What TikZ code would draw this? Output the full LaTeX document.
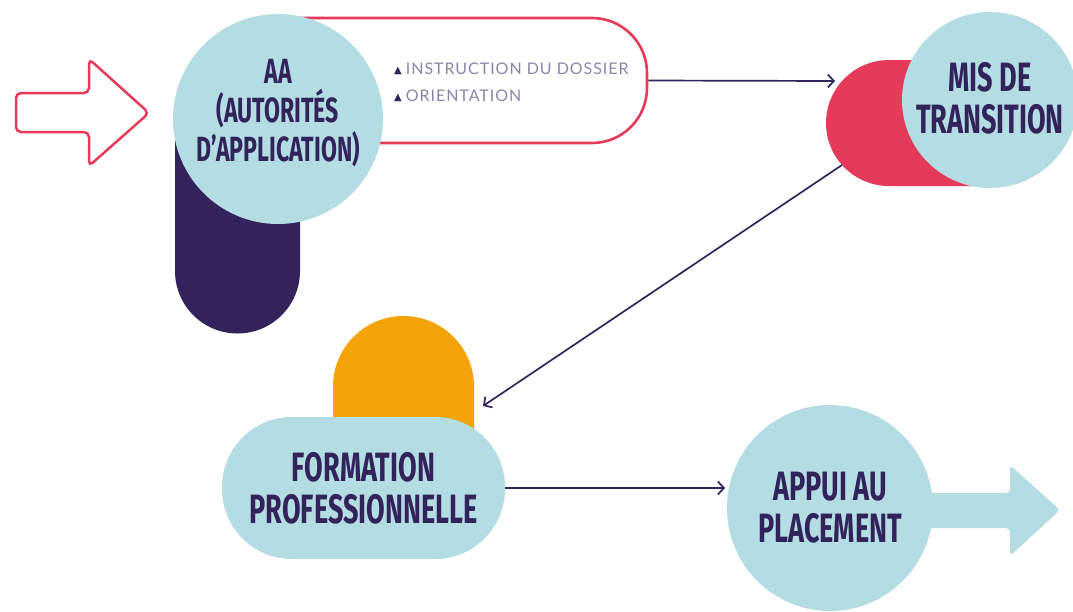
\documentclass[tikz,border=0pt]{standalone}
\usepackage{fontspec}
\usetikzlibrary{arrows.meta}
\newfontfamily\headfont[FakeStretch=0.66]{Fira Sans}
\newfontfamily\bodyfont[LetterSpace=6]{Lato}
\newfontfamily\symfont{DejaVu Sans}
\definecolor{lblue}{HTML}{B4DDE3}
\definecolor{dpurple}{HTML}{33235B}
\definecolor{cred}{HTML}{E63A5A}
\definecolor{corange}{HTML}{F5A30A}
\definecolor{cgray}{HTML}{8A84A8}
\newcommand{\tri}{\raisebox{1pt}{\symfont\color{dpurple}\fontsize{10}{10}\selectfont ▲}\hspace{4pt}}
\begin{document}
\begin{tikzpicture}[x=1pt,y=-1pt,
  head/.style={text=dpurple, font=\headfont\bfseries\fontsize{41}{42}\selectfont, align=center, inner sep=0},
  conn/.style={draw=dpurple, line width=1.7pt, -{Straight Barb[length=6pt,width=13pt]}},
  bullet/.style={anchor=west, text=cgray, font=\bodyfont\fontsize{16}{18}\selectfont, inner sep=0},
  disc/.style={circle, fill=lblue, inner sep=0}]
\useasboundingbox (0,0) rectangle (1073,611);

% left outline arrow
\draw[cred, line width=2.5pt, rounded corners=5pt] (16,93) -- (89,93) -- (89,59) -- (149,113) -- (89,166) -- (89,132) -- (16,132) -- cycle;

% outline pill with tasks
\node[draw=cred, line width=2.6pt, rounded corners=55pt, minimum width=418pt, minimum height=125pt, inner sep=0] (tasks) at (438,80.5) {};
% purple pill
\fill[dpurple] (175,110) -- (175,271) arc[start angle=180,end angle=0,radius=62.5] -- (300,110) -- cycle;
% AA circle
\node[disc, minimum size=210pt] (aa) at (278,119) {};
\node[head, font=\headfont\bfseries\fontsize{35}{39}\selectfont] (aatext) at (278,113) {AA\\(AUTORITÉS\\D’APPLICATION)};

\node[bullet] (b1) at (394,69) {\tri INSTRUCTION DU DOSSIER};
\node[bullet] (b2) at (394,96) {\tri ORIENTATION};

% red pill right
\fill[cred] (990,60) -- (889,60) arc[start angle=270,end angle=90,radius=63] -- (990,186) -- cycle;
\node[disc, minimum size=176pt] (mis) at (990,100) {};
\node[head] (mistext) at (990,98) {MIS DE\\TRANSITION};

% orange pill
\fill[corange] (333,440) -- (333,386.5) arc[start angle=180,end angle=360,radius=70.5] -- (474,440) -- cycle;
\node[fill=lblue, rounded corners=70pt, minimum width=283pt, minimum height=142pt, inner sep=0] (form) at (363.5,488) {};
\node[head] (formtext) at (363.5,488) {FORMATION\\PROFESSIONNELLE};

% blue arrow and appui circle
\fill[lblue, rounded corners=4pt] (900,493) -- (1010,493) -- (1010,465) -- (1060,510) -- (1010,556) -- (1010,528) -- (900,528) -- cycle;
\node[disc, minimum size=206pt] (appui) at (830,508) {};
\node[head] (appuitext) at (830,508) {APPUI AU\\PLACEMENT};

% connectors
\coordinate (e1) at (835,81);
\draw[conn] (tasks.east) -- (e1);
\coordinate (d1) at (842,165);
\coordinate (d2) at (483,406);
\draw[conn] (d1) -- (d2);
\coordinate (e2) at (725,488);
\draw[conn] (form.east) -- (e2);
\end{tikzpicture}
\end{document}
